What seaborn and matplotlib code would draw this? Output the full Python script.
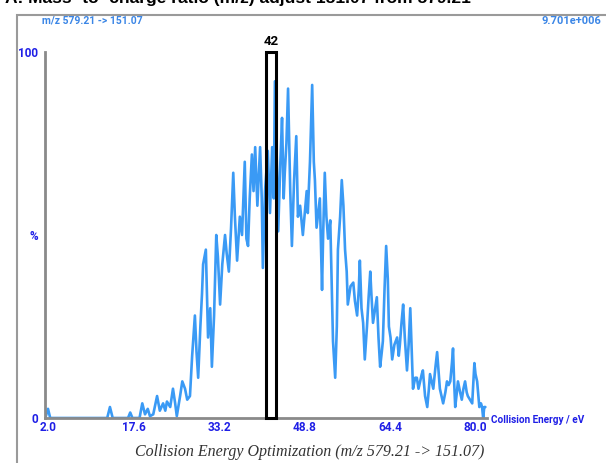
import matplotlib
matplotlib.use("Agg")
import matplotlib.pyplot as plt
import matplotlib.patches as mpatches
import seaborn as sns
import pandas as pd

# ---- data ----
energy = [1.5, 2.0, 2.4, 12.8, 13.3, 13.8, 16.6, 17.0, 17.4, 18.7, 19.2, 19.7, 20.2, 20.6,
          21.2, 21.9, 22.4, 23.0, 23.4, 23.7, 24.3, 24.8, 25.2, 25.5, 26.1, 26.5, 27.0, 27.4,
          27.9, 28.3, 28.8, 29.1, 29.4, 29.8, 30.1, 30.3, 30.8, 31.2, 31.6, 31.9, 32.3, 32.7,
          33.0, 33.4, 33.8, 34.3, 34.6, 35.0, 35.4, 35.8, 36.1, 36.5, 37.0, 37.4, 37.9, 38.2,
          38.5, 38.8, 39.2, 39.5, 39.8, 40.2, 40.7, 41.0, 41.2, 41.6, 42.1, 42.5, 42.9, 43.2,
          43.4, 43.8, 44.0, 44.4, 44.7, 45.0, 45.2, 45.5, 45.8, 46.2, 46.5, 46.9, 47.3, 47.6,
          48.0, 48.5, 48.9, 49.2, 49.4, 49.8, 50.2, 50.5, 50.7, 51.0, 51.3, 51.6, 52.0, 52.2,
          52.5, 52.8, 53.1, 53.5, 54.0, 54.4, 54.7, 54.9, 55.3, 55.6, 55.9, 56.2, 56.5, 56.7,
          57.2, 57.7, 58.0, 58.4, 58.7, 58.9, 59.2, 59.5, 59.8, 60.2, 60.5, 60.8, 61.0, 61.3,
          61.7, 62.0, 62.3, 62.6, 62.9, 63.1, 63.4, 63.7, 64.0, 64.2, 64.5, 64.8, 65.2, 65.7,
          66.0, 66.2, 66.5, 66.8, 67.1, 67.5, 67.8, 68.1, 68.4, 68.6, 69.0, 69.3, 69.6, 69.9,
          70.2, 70.4, 70.8, 71.2, 71.5, 71.7, 72.0, 72.3, 72.7, 73.0, 73.3, 73.5, 73.8, 74.1,
          74.5, 74.8, 75.1, 75.4, 75.7, 75.9, 76.1, 76.3, 76.6, 76.8, 77.2, 77.5, 77.8, 78.1,
          78.4, 78.6, 79.0, 79.4, 79.8, 80.0, 80.3, 80.7, 81.0, 81.2, 81.4, 81.6, 81.8]
intensity = [0, 2.5, 0, 0, 3, 0, 0, 1.5, 0, 0, 4, 1, 2.5, 0.5,
             1, 6, 2, 4, 2, 4.5, 3, 8, 4, 0.5, 6, 10, 8, 5,
             6, 17, 28, 18, 11, 25, 34, 42, 46, 22, 30, 14, 28, 50,
             44, 31, 42, 50, 45, 40, 52, 67, 55, 43, 55, 50, 70, 49,
             47, 60, 72, 62, 74, 58, 74, 60, 41, 62, 73, 56, 74, 60,
             92, 67, 51, 70, 82, 60, 67, 75, 90, 62, 47, 65, 77, 55,
             58, 50, 57, 62, 56, 70, 91, 70, 65, 52, 56, 60, 35, 50,
             67, 55, 49, 54, 21, 11, 25, 46, 55, 65, 58, 46, 40, 31,
             36, 37, 32, 28, 35, 43, 30, 26, 16, 25, 33, 40, 34, 26,
             30, 33, 22, 14, 18, 21, 35, 47, 38, 25, 22, 16, 20, 22,
             17, 20, 26, 31, 22, 13, 20, 30, 17, 8, 11, 11, 8, 10,
             12, 13, 6, 3, 8, 12, 10, 8, 14, 18, 12, 8, 6, 4,
             7, 10, 9, 10, 15, 19, 10, 3, 7, 10, 7, 5, 8, 10,
             7, 6, 5, 4, 15, 12, 10, 3, 4, 3, 0, 3, 3]

x_ticks = [2.0, 17.6, 33.2, 48.8, 64.4, 80.0]
x_tick_labels = ["2.0", "17.6", "33.2", "48.8", "64.4", "80.0"]
y_label_ticks = [0, 50, 100]
y_tick_labels = ["0", "%", "100"]
opt_center = 42.7
opt_width = 1.8
opt_label = "42"
transition = "m/z 579.21 -> 151.07"
max_counts = "9.701e+006"
title_text = "A: Mass -to- charge ratio (m/z) adjust 151.07 from 579.21"
caption = "Collision Energy Optimization (m/z 579.21 -> 151.07)"
xlabel = "Collision Energy / eV"

df = pd.DataFrame({"energy": energy, "intensity": intensity})

sns.set_style("white")
plt.rcParams['font.family'] = ['Roboto', 'DejaVu Sans']

BLUE_LINE = "#3a9af5"
TICK_BLUE = "#1f1fe6"
HEAD_BLUE = "#3b86e6"
AXIS_GRAY = "#8a8a8a"

fig = plt.figure(figsize=(6.06, 4.63), dpi=100)
ax = fig.add_axes([45/606, (463-418)/463, (487-45)/606, (418-52)/463])

sns.lineplot(data=df, x="energy", y="intensity", ax=ax, color=BLUE_LINE,
             linewidth=1.9, estimator=None, sort=False, zorder=2)

ax.set_xlim(1.45, 82.1)
ax.set_ylim(0, 100)

# optimum marker bar (outline)
ax.bar([opt_center], [100], width=opt_width, facecolor="none", edgecolor="black",
       linewidth=2.2, zorder=3, clip_on=False)
ax.text(opt_center, 101.2, opt_label, ha="center", va="bottom", fontsize=9.5,
        fontweight="bold", color="black")

for s in ["top", "right"]:
    ax.spines[s].set_visible(False)
for s in ["left", "bottom"]:
    ax.spines[s].set_color(AXIS_GRAY)
    ax.spines[s].set_linewidth(2)

ax.set_xticks(x_ticks)
ax.set_xticklabels(x_tick_labels)
ax.set_yticks(list(range(0, 101, 10)))
ax.set_yticklabels([y_tick_labels[y_label_ticks.index(v)] if v in y_label_ticks else ""
                    for v in range(0, 101, 10)])
ax.tick_params(axis="x", length=0, pad=2, labelsize=8.5, labelcolor=TICK_BLUE)
ax.tick_params(axis="y", length=4, width=1.2, color=AXIS_GRAY, pad=1,
               labelsize=8.5, labelcolor=TICK_BLUE, direction="out")
for lab in ax.get_xticklabels() + ax.get_yticklabels():
    lab.set_fontweight("bold")
ax.set_xlabel("")
ax.set_ylabel("")

# x label at right end of axis
fig.text(491/606, (463-420)/463, xlabel, ha="left", va="center", fontsize=7.2,
         fontweight="bold", color=TICK_BLUE)

# header texts
fig.text(42/606, (463-21)/463, transition, ha="left", va="center", fontsize=7.5,
         fontweight="bold", color=HEAD_BLUE)
fig.text(601/606, (463-21)/463, max_counts, ha="right", va="center", fontsize=8,
         fontweight="bold", color=HEAD_BLUE)

# cut-off title at top (only its lower part is visible, as in the source)
fig.text(5/606, 1 - 3.5/463, title_text, ha="left", va="baseline", fontsize=12.5,
         fontweight="bold", color="black", family=['Liberation Sans', 'DejaVu Sans'])

# caption
fig.text(310/606, (463-452)/463, caption, ha="center", va="center", fontsize=11.5,
         style="italic", color="#333333", family=['Liberation Serif', 'DejaVu Serif'])

# frame box
fig.patches.append(mpatches.Rectangle((17/606, -0.1), 1.0, 1.1 - 15/463,
                                      transform=fig.transFigure, fill=False,
                                      edgecolor="#9a9a9a", linewidth=1.5))

fig.savefig("out.png", dpi=100)
